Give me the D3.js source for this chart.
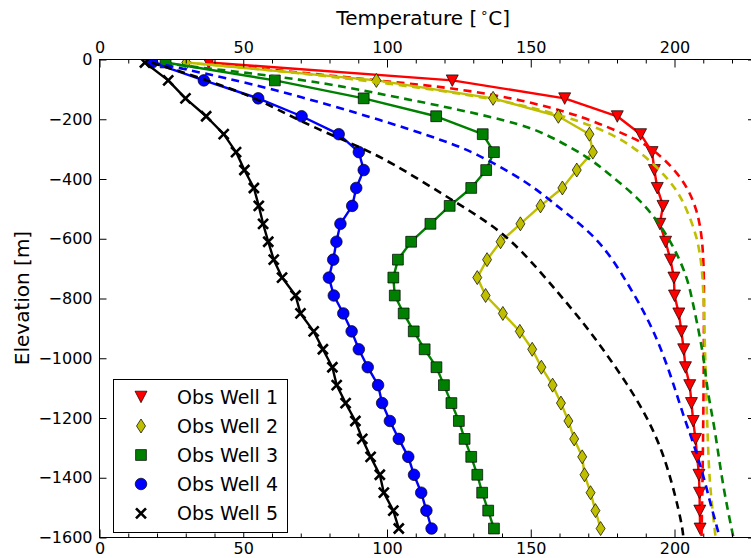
<!DOCTYPE html>
<html><head><meta charset="utf-8">
<script src="https://cdn.jsdelivr.net/npm/d3@7"></script>
<style>
body{margin:0;background:#fff;}
svg{display:block;}
text{font-family:"DejaVu Sans",sans-serif;fill:#000;}
</style>
</head><body>
<svg id="c" width="751" height="558"></svg>
<script>
// ---------------- DATA ----------------
const elevations = [-10,-70,-130,-190,-250,-310,-370,-430,-490,-550,-610,-670,-730,-790,-850,-910,-970,-1030,-1090,-1150,-1210,-1270,-1330,-1390,-1450,-1510,-1570];

const obsWell1 = [38.0,122.7,161.8,180.1,188.2,192.2,193.0,194.0,196.0,194.9,196.9,198.6,199.8,200.0,201.5,202.4,203.2,203.8,205.3,205.9,206.5,207.3,207.9,208.5,208.7,208.8,208.9];
const obsWell2 = [30.2,96.3,136.9,159.6,170.4,171.6,166.0,161.0,153.4,146.4,139.5,134.8,131.4,134.3,140.3,146.2,150.5,153.7,157.6,160.5,163.1,165.1,167.9,168.7,170.8,172.5,174.3];
const obsWell3 = [23.0,61.0,91.9,117.1,133.3,137.2,134.5,129.3,121.8,115.1,108.4,103.8,102.2,102.7,105.8,109.3,113.1,117.2,119.8,122.4,125.0,127.0,129.3,131.4,133.1,135.2,137.2];
const obsWell4 = [18.3,36.3,55.2,70.3,83.2,90.2,91.9,89.3,87.9,83.8,82.4,81.3,79.8,81.5,84.8,87.7,90.2,93.3,96.9,98.3,101.0,104.1,107.4,109.4,111.9,113.7,115.5];
const obsWell5 = [15.8,23.9,29.9,37.1,43.2,47.5,50.4,53.7,55.4,56.9,58.7,60.6,63.5,68.2,69.9,74.5,77.7,81.0,82.5,85.6,89.0,91.4,94.3,97.5,98.9,102.2,104.1];

// model curves: [temperature, elevation]
const modelWell1 = [[37.9,-10],[49.0,-24],[101.2,-74],[124.4,-97],[147.6,-136],[166.2,-186],[176.0,-223],[184.7,-259],[191.7,-292],[199.8,-365],[204.4,-426],[207.9,-504],[209.6,-594],[210.2,-694],[210.3,-806],[210.1,-1141],[209.8,-1376],[209.4,-1600]];
const modelWell2 = [[29.3,-10],[60.0,-35],[101.2,-80],[137.0,-130],[155.0,-172],[163.8,-197],[175.4,-236],[185.9,-292],[195.1,-370],[200.9,-437],[204.4,-504],[207.9,-594],[209.6,-694],[210.2,-806],[210.8,-1052],[211.4,-1219],[212.0,-1387],[213.1,-1499],[213.9,-1566],[214.3,-1600]];
const modelWell3 = [[22.4,-10],[25.8,-18],[72.2,-66],[101.2,-122],[124.4,-166],[147.6,-218],[157.0,-258],[170.0,-326],[177.7,-387],[187.0,-460],[194.0,-538],[199.8,-627],[204.4,-728],[206.2,-806],[207.9,-884],[210.2,-996],[211.4,-1108],[213.7,-1219],[215.4,-1331],[217.2,-1443],[219.5,-1554],[220.5,-1600]];
const modelWell4 = [[18.4,-10],[25.8,-24],[60.6,-97],[101.2,-212],[119.8,-272],[130.2,-310],[148.8,-409],[158.0,-482],[168.5,-560],[176.6,-638],[185.9,-784],[192.8,-906],[198.6,-1052],[203.2,-1197],[206.7,-1286],[210.2,-1398],[212.5,-1487],[214.8,-1566],[215.7,-1600]];
const modelWell5 = [[18.1,-10],[37.5,-69],[54.9,-130],[69.9,-208],[88.5,-284],[101.2,-342],[120.9,-460],[136.0,-549],[146.4,-633],[160.3,-789],[168.5,-884],[175.4,-973],[183.5,-1085],[190.5,-1197],[195.7,-1309],[199.2,-1420],[201.5,-1510],[202.7,-1566],[203.1,-1600]];

const wellNames = ["Obs Well 1","Obs Well 2","Obs Well 3","Obs Well 4","Obs Well 5"];
const wellColors = ["#ff0000","#bfbf00","#008000","#0000ff","#000000"];
const wellMarkers = ["triangleDown","thinDiamond","square","circle","x"];

const xMajorTicks = [0,50,100,150,200];
const xMinorTicks = [10,20,30,40,60,70,80,90,110,120,130,140,160,170,180,190,210,220];
const yTicks = [0,-200,-400,-600,-800,-1000,-1200,-1400,-1600];

const xLabel = "Temperature [";
const xLabelSup = "\u2218";
const xLabelEnd = "C]";
const yLabel = "Elevation [m]";

// ---------------- CHART ----------------
const svg = d3.select("#c");
const L = 99.5, R = 755, T = 59.5, B = 537.5;
const x = d3.scaleLinear().domain([0,228]).range([L,R]);
const y = d3.scaleLinear().domain([0,-1600]).range([T,B]);

const obs = [obsWell1,obsWell2,obsWell3,obsWell4,obsWell5];
const models = [modelWell1,modelWell2,modelWell3,modelWell4,modelWell5];

svg.append("defs").append("clipPath").attr("id","clip")
  .append("rect").attr("x",L).attr("y",T).attr("width",R-L).attr("height",B-T);

const plot = svg.append("g").attr("clip-path","url(#clip)");

function markerPath(type){
  switch(type){
    case "triangleDown": return "M-6,-5.5 L6,-5.5 L0,6 Z";
    case "thinDiamond": return "M0,-7 L4.5,0 L0,7 L-4.5,0 Z";
    case "square": return "M-5.4,-5.4 L5.4,-5.4 L5.4,5.4 L-5.4,5.4 Z";
    case "circle": return d3.symbol(d3.symbolCircle, Math.PI*5.8*5.8)();
    case "x": return "M-5,-5 L5,5 M-5,5 L5,-5";
  }
}
function drawMarker(g, type, color, cx, cy){
  const p = g.append("path").attr("d", markerPath(type)).attr("transform",`translate(${cx},${cy})`);
  if(type==="x"){
    p.attr("fill","none").attr("stroke",color).attr("stroke-width",2.6);
  } else {
    p.attr("fill",color).attr("stroke","#000").attr("stroke-width",0.7);
  }
}

const lineObs = d3.line().x(d=>x(d[0])).y(d=>y(d[1]));
const lineModel = d3.line().x(d=>x(d[0])).y(d=>y(d[1])).curve(d3.curveBasis);

for(let i=0;i<5;i++){
  const pts = obs[i].map((t,k)=>[t,elevations[k]]);
  plot.append("path").attr("d",lineObs(pts)).attr("fill","none")
    .attr("stroke",wellColors[i]).attr("stroke-width",2.4).attr("stroke-linejoin","round");
  pts.forEach(p=>drawMarker(plot, wellMarkers[i], wellColors[i], x(p[0]), y(p[1])));
  plot.append("path").attr("d",lineModel(models[i])).attr("fill","none")
    .attr("stroke",wellColors[i]).attr("stroke-width",2.6).attr("stroke-dasharray","8,5.5");
}

// axes
const fmt = d => d===0 ? "0" : d3.format("d")(d).replace("-","\u2212");
function styleAxis(g){
  g.selectAll(".domain").remove();
  g.selectAll("line").attr("stroke","#000").attr("stroke-width",1);
  g.selectAll("text").attr("font-size","16px").attr("font-family","DejaVu Sans, sans-serif");
}
svg.append("g").attr("transform",`translate(0,${T})`)
  .call(d3.axisTop(x).tickValues(xMajorTicks).tickSize(-8).tickPadding(7).tickFormat(d3.format("d"))).call(styleAxis);
svg.append("g").attr("transform",`translate(0,${T})`)
  .call(d3.axisTop(x).tickValues(xMinorTicks).tickSize(-4).tickFormat("")).call(styleAxis);
svg.append("g").attr("transform",`translate(0,${B})`)
  .call(d3.axisBottom(x).tickValues(xMajorTicks).tickSize(-8).tickPadding(5).tickFormat(d3.format("d"))).call(styleAxis);
svg.append("g").attr("transform",`translate(0,${B})`)
  .call(d3.axisBottom(x).tickValues(xMinorTicks).tickSize(-4).tickFormat("")).call(styleAxis);
svg.append("g").attr("transform",`translate(${L},0)`)
  .call(d3.axisLeft(y).tickValues(yTicks).tickSize(-7).tickPadding(7).tickFormat(fmt)).call(styleAxis);
svg.append("g").attr("transform",`translate(${R},0)`)
  .call(d3.axisRight(y).tickValues(yTicks).tickSize(-7).tickFormat("")).call(styleAxis);

svg.append("rect").attr("x",L).attr("y",T).attr("width",R-L).attr("height",B-T)
  .attr("fill","none").attr("stroke","#000").attr("stroke-width",1);

// axis labels
const xl = svg.append("text").attr("x",(L+R)/2 - 4).attr("y",25).attr("text-anchor","middle").attr("font-size","20px");
xl.append("tspan").text(xLabel);
xl.append("tspan").attr("dx",3).attr("dy",-8).attr("font-size","13px").text(xLabelSup);
xl.append("tspan").attr("dy",8).text(xLabelEnd);

svg.append("text").attr("transform","translate(29,298) rotate(-90)").attr("text-anchor","middle")
  .attr("font-size","20px").text(yLabel);

// legend
const lg = svg.append("g");
lg.append("rect").attr("x",113.5).attr("y",379.5).attr("width",174).attr("height",153)
  .attr("fill","#fff").attr("stroke","#000").attr("stroke-width",1);
const rowY = [396.7,426,455,484,513.3];
for(let i=0;i<5;i++){
  drawMarker(lg, wellMarkers[i], wellColors[i], 141, rowY[i]);
  lg.append("text").attr("x",177).attr("y",rowY[i]).attr("dy","0.36em")
    .attr("font-size","19px").text(wellNames[i]);
}
</script>
</body></html>
